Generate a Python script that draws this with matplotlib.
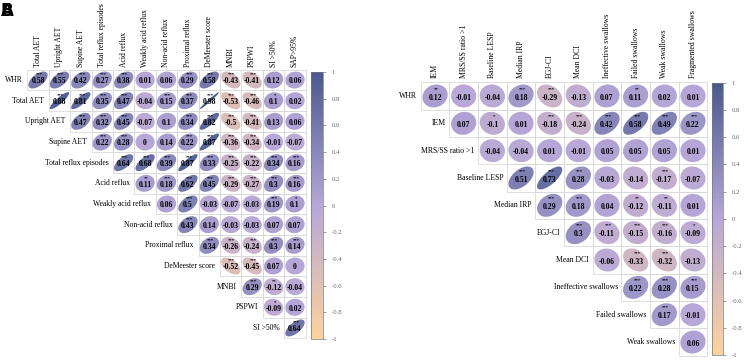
import numpy as np
import matplotlib
matplotlib.use("Agg")
import matplotlib.pyplot as plt
from matplotlib.colors import LinearSegmentedColormap, Normalize
from matplotlib.patches import Polygon, Rectangle
import matplotlib.colorbar as mcolorbar

# ---------------- data ----------------
left_rows = ["WHR", "Total AET", "Upright AET", "Supine AET", "Total reflux episodes",
             "Acid reflux", "Weakly acid reflux", "Non-acid reflux", "Proximal reflux",
             "DeMeester score", "MNBI", "PSPWI", "SI >50%"]
left_cols = ["Total AET", "Upright AET", "Supine AET", "Total reflux episodes",
             "Acid reflux", "Weakly acid reflux", "Non-acid reflux", "Proximal reflux",
             "DeMeester score", "MNBI", "PSPWI", "SI >50%", "SAP>95%"]
left_values = [
    [0.58, 0.55, 0.42, 0.27, 0.38, 0.01, 0.06, 0.29, 0.58, -0.43, -0.41, 0.12, 0.06],
    [0.88, 0.81, 0.35, 0.47, -0.04, 0.15, 0.37, 0.98, -0.53, -0.46, 0.1, 0.02],
    [0.47, 0.32, 0.45, -0.07, 0.1, 0.34, 0.82, -0.5, -0.41, 0.13, 0.06],
    [0.22, 0.28, 0, 0.14, 0.22, 0.87, -0.36, -0.34, -0.01, -0.07],
    [0.64, 0.68, 0.39, 0.87, 0.33, -0.25, -0.22, 0.34, 0.16],
    [0.11, 0.18, 0.62, 0.45, -0.29, -0.27, 0.3, 0.16],
    [0.06, 0.5, -0.03, -0.07, -0.03, 0.19, 0.1],
    [0.43, 0.14, -0.03, -0.03, 0.07, 0.07],
    [0.34, -0.26, -0.24, 0.3, 0.14],
    [-0.52, -0.45, 0.07, 0],
    [0.29, -0.12, -0.04],
    [-0.09, 0.02],
    [0.64],
]
left_stars = [
    ["***", "***", "***", "***", "***", "", "", "***", "***", "***", "***", "", ""],
    ["***", "***", "***", "***", "", "***", "***", "***", "***", "***", "*", ""],
    ["***", "***", "***", "", "", "***", "***", "***", "***", "", ""],
    ["***", "***", "", "", "***", "***", "***", "***", "", ""],
    ["***", "***", "***", "***", "***", "***", "***", "***", "***"],
    ["**", "***", "***", "***", "***", "***", "***", "***"],
    ["", "***", "", "", "", "***", "*"],
    ["***", "", "", "", "", ""],
    ["***", "***", "***", "***", "***"],
    ["***", "***", "", ""],
    ["***", "**", ""],
    ["*", ""],
    ["***"],
]

right_rows = ["WHR", "IEM", "MRS/SS ratio >1", "Baseline LESP", "Median IRP", "EGJ-CI",
              "Mean DCI", "Ineffective swallows", "Failed swallows", "Weak swallows"]
right_cols = ["IEM", "MRS/SS ratio >1", "Baseline LESP", "Median IRP", "EGJ-CI",
              "Mean DCI", "Ineffective swallows", "Failed swallows", "Weak swallows",
              "Fragmented swallows"]
right_values = [
    [0.12, -0.01, -0.04, 0.18, -0.29, -0.13, 0.07, 0.11, 0.02, 0.01],
    [0.07, -0.1, 0.01, -0.18, -0.24, 0.42, 0.58, 0.49, 0.22],
    [-0.04, -0.04, 0.01, -0.01, 0.05, 0.05, 0.05, 0.01],
    [0.51, 0.73, 0.28, -0.03, -0.14, -0.17, -0.07],
    [0.29, 0.18, 0.04, -0.12, -0.11, 0.01],
    [0.3, -0.11, -0.15, -0.16, -0.09],
    [-0.06, -0.33, -0.32, -0.13],
    [0.22, 0.28, 0.15],
    [0.17, -0.01],
    [0.06],
]
right_stars = [
    ["**", "", "", "***", "***", "", "", "**", "", ""],
    ["", "*", "", "***", "***", "***", "***", "***", "***"],
    ["", "", "", "", "", "", "", ""],
    ["***", "***", "***", "", "", "***", ""],
    ["***", "***", "", "**", "**", ""],
    ["***", "***", "***", "***", "*"],
    ["", "***", "***", ""],
    ["***", "***", "***"],
    ["***", ""],
    [""],
]
cbar_ticks = [1, 0.8, 0.6, 0.4, 0.2, 0, -0.2, -0.4, -0.6, -0.8, -1]

# ---------------- style ----------------
W, H = 744, 361
cmap = LinearSegmentedColormap.from_list("corr", ["#FDD39A", "#B6A7D8", "#48598F"])
norm = Normalize(-1, 1)
SERIF = ["Liberation Serif", "DejaVu Serif"]
GRID = "#D9D9D9"

fig = plt.figure(figsize=(W / 100, H / 100), dpi=100)


def px_axes(x0, y0, x1, y1):
    return fig.add_axes([x0 / W, 1 - y1 / H, (x1 - x0) / W, (y1 - y0) / H])


def ellipse_pts(r, cx, cy, sx, sy, n=80):
    d = np.arccos(np.clip(r, -0.999, 0.999))
    a = np.linspace(0, 2 * np.pi, n)
    x = np.cos(a + d / 2)
    y = np.cos(a - d / 2)
    # y axis inverted in data, so flip y for visual orientation
    return np.column_stack([cx + sx * x, cy - sy * y])


def draw_panel(ax, rows, cols, values, stars, sx, sy, label_gap, fs_lab, fs_num):
    n_r, n_c = len(rows), len(cols)
    ax.set_xlim(-0.5, n_c - 0.5)
    ax.set_ylim(n_r - 0.5, -0.5)
    ax.axis("off")
    for i, (vals, sts) in enumerate(zip(values, stars)):
        for k, (v, s) in enumerate(zip(vals, sts)):
            j = i + k
            ax.add_patch(Rectangle((j - 0.5, i - 0.5), 1, 1, fill=False,
                                   edgecolor=GRID, lw=0.6, clip_on=False))
            ax.add_patch(Polygon(ellipse_pts(v, j, i, sx, sy), closed=True,
                                 facecolor=cmap(norm(v)), edgecolor="none"))
            ax.text(j, i + 0.06, f"{v:g}", ha="center", va="center",
                    fontsize=fs_num, fontweight="bold", family=SERIF, color="black")
            if s:
                ax.text(j + 0.05, i - 0.25, s, ha="center", va="center",
                        fontsize=fs_num * 0.6, fontweight="bold", family=SERIF,
                        color="black")
        ax.text(i - 0.5 - label_gap, i, rows[i], ha="right", va="center",
                fontsize=fs_lab, family=SERIF, clip_on=False)
    for j, c in enumerate(cols):
        ax.text(j, -0.5 - 0.15, c, ha="center", va="bottom", rotation=90,
                fontsize=fs_lab, family=SERIF, clip_on=False)


def draw_cbar(cax):
    cb = mcolorbar.ColorbarBase(cax, cmap=cmap, norm=norm, orientation="vertical")
    cb.set_ticks(cbar_ticks)
    cb.set_ticklabels([f"{t:g}" for t in cbar_ticks])
    cb.outline.set_edgecolor("#777777")
    cb.outline.set_linewidth(0.5)
    cax.tick_params(labelsize=4.8, length=2, width=0.4, colors="#555555", pad=4)
    for t in cax.get_yticklabels():
        t.set_family(SERIF)
        t.set_color("#666666")


# left panel
axL = px_axes(27.3, 69.7, 305.7, 338.3)
draw_panel(axL, left_rows, left_cols, left_values, left_stars,
           0.45, 0.41, 0.22, 5.5, 5.6)
draw_cbar(px_axes(311, 72, 323, 339))

# right panel
axR = px_axes(420.7, 82.3, 707.3, 355.7)
draw_panel(axR, right_rows, right_cols, right_values, right_stars,
           0.44, 0.42, 0.12, 5.6, 5.6)
draw_cbar(px_axes(712, 82.7, 723, 355))

# panel letters
fig.text(1 / W, 1 - 2 / H, "A", ha="left", va="top", fontsize=12, fontweight="bold")
fig.text(1 / W, 1 - 2 / H, "B", ha="left", va="top", fontsize=12, fontweight="bold")

fig.savefig("out.png", dpi=100)
